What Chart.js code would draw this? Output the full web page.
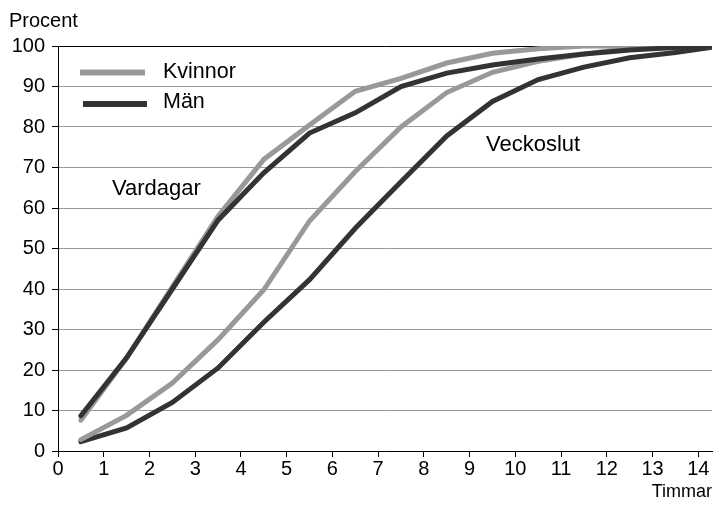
<!DOCTYPE html>
<html>
<head>
<meta charset="utf-8">
<script src="https://cdn.jsdelivr.net/npm/chart.js@4.4.1/dist/chart.umd.min.js"></script>
<style>
  html, body { margin: 0; padding: 0; background: #ffffff; }
  #wrap { width: 713px; height: 513px; position: relative; }
</style>
</head>
<body>
<div id="wrap"><canvas id="c" width="713" height="513"></canvas></div>
<script>
// Data
const hours = [0.5, 1.5, 2.5, 3.5, 4.5, 5.5, 6.5, 7.5, 8.5, 9.5, 10.5, 11.5, 12.5, 13.5, 14.5];
const vardagarKvinnor  = [7.6, 23, 40.5, 58, 72, 80.5, 88.8, 92, 95.8, 98.2, 99.3, 100, 100, 100, 100];
const vardagarMan      = [8.7, 23, 40, 57, 68.7, 78.5, 83.5, 90, 93.3, 95.3, 96.8, 98, 99, 99.6, 100];
const veckoslutKvinnor = [2.8, 8.8, 16.8, 27.5, 39.8, 56.8, 69, 80, 88.5, 93.5, 96.2, 98, 99.5, 100, 100];
const veckoslutMan     = [2.3, 5.7, 12, 20.5, 31.8, 42.3, 55, 66.5, 77.8, 86.3, 91.7, 94.8, 97.1, 98.4, 100];
const xTickValues = [0, 1, 2, 3, 4, 5, 6, 7, 8, 9, 10, 11, 12, 13, 14];
const yTickValues = [0, 10, 20, 30, 40, 50, 60, 70, 80, 90, 100];
const seriesNames = ['Kvinnor', 'Män'];
const groupNames = ['Vardagar', 'Veckoslut'];
const yTitle = 'Procent';
const xTitle = 'Timmar';

const LIGHT = '#999999';
const DARK = '#333333';
const FONT = '"Liberation Sans", Arial, sans-serif';

function pts(ys) { return hours.map((h, i) => ({ x: h, y: ys[i] })); }

function ds(label, ys, color) {
  return {
    label: label,
    data: pts(ys),
    borderColor: color,
    backgroundColor: color,
    borderWidth: 5,
    pointRadius: 0,
    tension: 0,
    borderCapStyle: 'round',
    borderJoinStyle: 'miter',
    fill: false
  };
}

const textPlugin = {
  id: 'texts',
  afterDraw(chart) {
    const ctx = chart.ctx;
    ctx.save();
    ctx.fillStyle = '#000';
    ctx.font = '20px ' + FONT;
    ctx.textBaseline = 'middle';
    ctx.textAlign = 'left';
    ctx.fillText(yTitle, 9, 21);
    ctx.font = '18px ' + FONT;
    ctx.textAlign = 'right';
    ctx.fillText(xTitle, 712, 492);
    // legend
    ctx.lineCap = 'butt';
    ctx.lineWidth = 6;
    ctx.strokeStyle = LIGHT;
    ctx.beginPath(); ctx.moveTo(80, 72.5); ctx.lineTo(145, 72.5); ctx.stroke();
    ctx.strokeStyle = DARK;
    ctx.beginPath(); ctx.moveTo(83, 104); ctx.lineTo(147, 104); ctx.stroke();
    ctx.font = '21.5px ' + FONT;
    ctx.textAlign = 'left';
    ctx.fillText(seriesNames[0], 163, 72);
    ctx.fillText(seriesNames[1], 163, 102);
    ctx.font = '22px ' + FONT;
    ctx.fillText(groupNames[0], 112, 189);
    ctx.fillText(groupNames[1], 486, 145);
    ctx.restore();
  }
};

new Chart(document.getElementById('c'), {
  type: 'line',
  data: {
    datasets: [
      ds('Vardagar Män', vardagarMan, DARK),
      ds('Vardagar Kvinnor', vardagarKvinnor, LIGHT),
      ds('Veckoslut Kvinnor', veckoslutKvinnor, LIGHT),
      ds('Veckoslut Män', veckoslutMan, DARK)
    ]
  },
  options: {
    responsive: false,
    animation: false,
    devicePixelRatio: 1,
    layout: { padding: { left: 0, right: 1, top: 46, bottom: 0 } },
    plugins: { legend: { display: false }, tooltip: { enabled: false } },
    scales: {
      x: {
        type: 'linear',
        min: 0,
        max: 14.3,
        afterBuildTicks(scale) { scale.ticks = xTickValues.map(v => ({ value: v })); },
        afterFit(scale) { scale.height = 62; },
        border: { color: '#000', width: 1 },
        grid: { drawOnChartArea: false, drawTicks: true, tickLength: 6, tickColor: '#000' },
        ticks: { color: '#000', font: { family: FONT, size: 20 }, padding: 0, maxRotation: 0, autoSkip: false }
      },
      y: {
        min: 0,
        max: 100,
        afterBuildTicks(scale) { scale.ticks = yTickValues.map(v => ({ value: v })); },
        afterFit(scale) { scale.width = 58; },
        border: { color: '#000', width: 1 },
        grid: {
          color: (c) => (c.tick && c.tick.value === 100) ? '#000' : '#999999',
          lineWidth: 1,
          drawTicks: true,
          tickLength: 6,
          tickColor: '#000'
        },
        ticks: { color: '#000', font: { family: FONT, size: 20 }, padding: 7 }
      }
    }
  },
  plugins: [textPlugin]
});
</script>
</body>
</html>
